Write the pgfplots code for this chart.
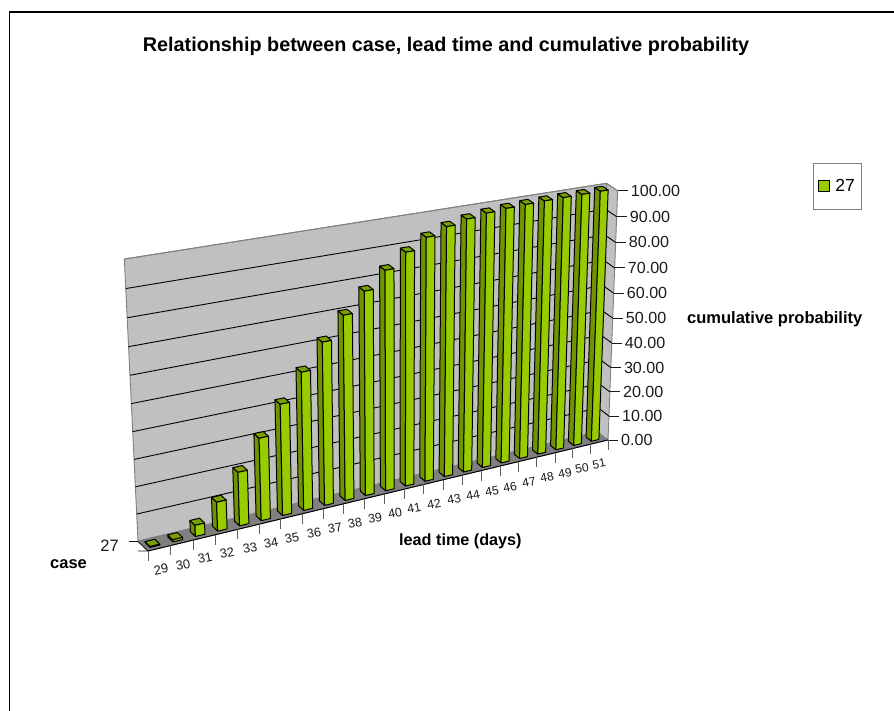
\documentclass[border=0pt]{standalone}
\usepackage{pgfplots}
\usepackage{pgfplotstable}
\usepackage{fontspec}
\setmainfont{Liberation Sans}
\pgfplotsset{compat=1.18}

\definecolor{barfront}{HTML}{99CC00}
\definecolor{barside}{HTML}{6F9400}
\definecolor{bartop}{HTML}{7A9F00}
\definecolor{wallgray}{HTML}{C0C0C0}
\definecolor{floorgray}{HTML}{808080}
\definecolor{inkgray}{HTML}{808080}
\definecolor{ink}{HTML}{1A1A1A}

% lead time (days) and cumulative probability
\pgfplotstableread{
lead prob
29 0.3
30 0.8
31 4.2
32 10.9
33 20.2
34 31.1
35 42.0
36 52.2
37 61.7
38 70.1
39 77.5
40 83.8
41 89.1
42 93.3
43 96.0
44 97.6
45 98.6
46 99.2
47 99.5
48 99.7
49 99.8
50 99.9
51 100.0
}\leadtable

% Perspective projection of (category position, value, depth) to the drawing plane
\newcommand\projpoint[3]{%
  \pgfmathsetmacro\pW{1+0.00656*(#1)-0.0005*(#2)+0.005*(#3)}%
  \pgfmathsetmacro\px{(148+23.99*(#1)-0.20*(#2)-9.31*(#3))/\pW}%
  \pgfmathsetmacro\py{(551-1.94*(#1)-2.964*(#2)-7.3*(#3))/\pW}%
}
\newcommand\addpt[3]{\projpoint{#1}{#2}{#3}\xdef\poly{\poly (\px,\py)}}
\newcommand\startpoly{\gdef\poly{}}
\newcommand\drawpoly[1]{\edef\temp{\noexpand\addplot[forget plot,#1] coordinates {\poly};}\temp}
\newcommand\fs[1]{\fontsize{#1}{#1}\selectfont}

\begin{document}
\begin{tikzpicture}[x=1pt,y=1pt]
\path[use as bounding box] (0,0) rectangle (894,711);
\begin{axis}[
  at={(0,0)},anchor=south west,
  scale only axis,width=894pt,height=711pt,
  xmin=0,xmax=894,ymin=0,ymax=711,y dir=reverse,
  hide axis,clip=false,
  legend style={at={(axis cs:813,163)},anchor=north west,draw=inkgray,line width=0.9pt,
    font=\fs{17.5},inner xsep=5pt,inner ysep=14pt,fill=white},
]
% chart area frame
\addplot[forget plot,black,line width=1.3pt] coordinates {(9.5,711)(9.5,12)(894,12)};

% back wall, side wall and floor
\startpoly\addpt{0}{0}{1}\addpt{23}{0}{1}\addpt{23}{100}{1}\addpt{0}{100}{1}\addpt{0}{0}{1}
\drawpoly{fill=wallgray,draw=inkgray,line width=0.9pt}
\startpoly\addpt{23}{0}{1}\addpt{23}{0}{0}\addpt{23}{100}{0}\addpt{23}{100}{1}\addpt{23}{0}{1}
\drawpoly{fill=wallgray,draw=inkgray,line width=0.9pt}
\startpoly\addpt{0}{0}{0}\addpt{23}{0}{0}\addpt{23}{0}{1}\addpt{0}{0}{1}\addpt{0}{0}{0}
\drawpoly{fill=floorgray,draw=floorgray,line width=0.5pt}

% gridlines on both walls, value ticks and their labels
\foreach \v in {0,10,...,100}{%
  \startpoly\addpt{0}{\v}{1}\addpt{23}{\v}{1}\addpt{23}{\v}{0}%
  \ifnum\v=100 \drawpoly{draw=inkgray,line width=0.9pt}\else
  \ifnum\v=0 \else \drawpoly{draw=black,line width=0.9pt}\fi\fi
  \projpoint{23}{\v}{0}%
  \pgfmathsetmacro\tx{\px+10}%
  \pgfmathsetmacro\lx{\px+13}%
  \edef\temp{\noexpand\addplot[forget plot,draw=ink,line width=0.9pt] coordinates {(\px,\py)(\tx,\py)};
    \noexpand\node[anchor=west,inner sep=0pt,text=ink,font=\noexpand\fs{16.1}] at (axis cs:\lx,\py) {\v.00};}\temp
}

% floor edge and category ticks
\startpoly\addpt{0}{0}{0}\addpt{23}{0}{0}
\drawpoly{draw=black,line width=1pt}
\foreach \t in {0,...,23}{%
  \projpoint{\t}{0}{0}%
  \pgfmathsetmacro\ty{\py+10}%
  \edef\temp{\noexpand\addplot[forget plot,draw=ink!70,line width=0.9pt] coordinates {(\px,\py)(\px,\ty)};}\temp
}
% depth axis with its two ticks
\addplot[forget plot,draw=ink,line width=0.9pt] coordinates {(129,541.5)(138,541.5)(148,551)(138,551)};

% bars, far ones first; front face, left side and top of each
\foreach \i in {22,21,...,0}{%
  \pgfplotstablegetelem{\i}{prob}\of\leadtable
  \let\val\pgfplotsretval
  \pgfmathsetmacro\tl{\i+0.2}%
  \pgfmathsetmacro\tr{\i+0.63}%
  \startpoly\addpt{\tl}{0}{0.25}\addpt{\tl}{0}{0.75}\addpt{\tl}{\val}{0.75}\addpt{\tl}{\val}{0.25}\addpt{\tl}{0}{0.25}
  \drawpoly{fill=barside,draw=black,line width=1pt,line join=round}
  \startpoly\addpt{\tl}{\val}{0.25}\addpt{\tr}{\val}{0.25}\addpt{\tr}{\val}{0.75}\addpt{\tl}{\val}{0.75}\addpt{\tl}{\val}{0.25}
  \drawpoly{fill=bartop,draw=black,line width=1pt,line join=round}
  \startpoly\addpt{\tl}{0}{0.25}\addpt{\tr}{0}{0.25}\addpt{\tr}{\val}{0.25}\addpt{\tl}{\val}{0.25}\addpt{\tl}{0}{0.25}
  \drawpoly{fill=barfront,draw=black,line width=1pt,line join=round}
}

% category labels, turned with the floor edge and shrinking with distance
\foreach \x/\y/\l/\s in {161/569.5/29/13,183/565/30/13,205/558/31/12.9,227/553/32/12.9,250/548/33/12.8,
  271/543/34/12.8,292/538/35/12.7,314/533/36/12.7,335/528/37/12.6,355/523/38/12.6,375/518/39/12.5,
  395/513/40/12.5,414/508/41/12.4,434/504/42/12.4,454/499/43/12.3,473/495/44/12.3,492/491/45/12.2,
  510/487/46/12.2,529/482/47/12.1,547/477/48/12.1,565/473/49/12,582/468/50/12,599/464/51/11.9}{%
  \edef\temp{\noexpand\node[rotate=11,inner sep=0pt,text=ink,font=\noexpand\fs{\s}] at (axis cs:\x,\y) {\l};}\temp
}

\node[anchor=base,inner sep=0pt,font=\bfseries\fs{19.8}] at (axis cs:446,52) {Relationship between case, lead time and cumulative probability};
\node[anchor=base west,inner sep=0pt,font=\bfseries\fs{16.5}] at (axis cs:687,323.5) {cumulative probability};
\node[anchor=base west,inner sep=0pt,font=\bfseries\fs{16.2}] at (axis cs:399,545) {lead time (days)};
\node[anchor=base west,inner sep=0pt,font=\bfseries\fs{16.5}] at (axis cs:50,568) {case};
\node[anchor=east,inner sep=0pt,text=ink,font=\fs{16.5}] at (axis cs:119,546) {27};

\addlegendimage{legend image code/.code={\draw[black,line width=0.8pt,fill=barfront] (6pt,-5.5pt) rectangle (17pt,5.5pt);\path (20pt,0pt);}}
\addlegendentry{27}
\end{axis}
\end{tikzpicture}
\end{document}
